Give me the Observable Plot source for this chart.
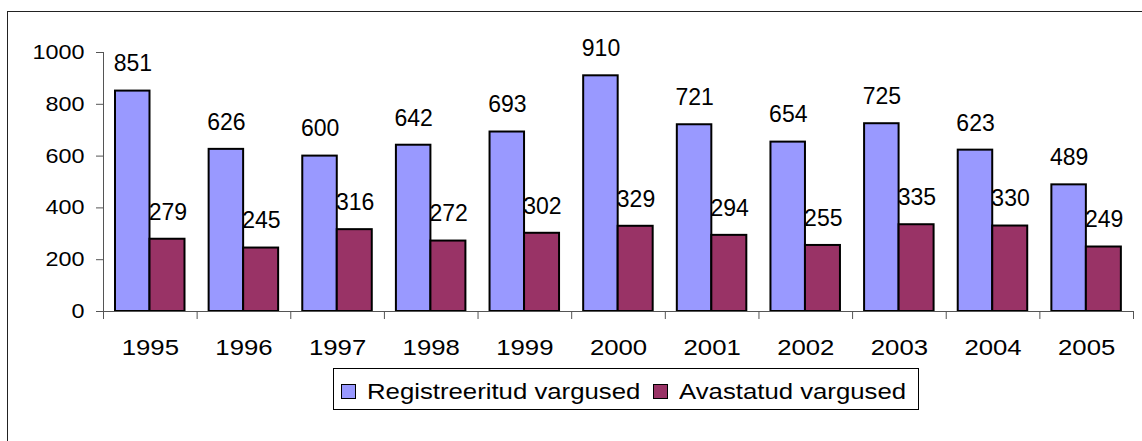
<!DOCTYPE html>
<html><head><meta charset="utf-8">
<script src="https://cdn.jsdelivr.net/npm/d3@7"></script>
<script src="https://cdn.jsdelivr.net/npm/@observablehq/plot@0.6"></script>
<style>
html,body{margin:0;padding:0;background:#fff;overflow:hidden;width:1142px;height:441px;}
#wrap{position:relative;width:1142px;height:441px;overflow:hidden;font-family:"Liberation Sans",Arial,sans-serif;}
#border{position:absolute;left:7px;top:11px;width:1200px;height:500px;border:1.5px solid #222;pointer-events:none;z-index:5;}
#chart{position:absolute;left:0;top:0;}
#legend{position:absolute;left:333px;top:368px;width:586px;height:42px;border:1px solid #000;box-sizing:border-box;background:#fff;}
.sw{position:absolute;top:15px;width:15px;height:15px;border:1.5px solid #000;box-sizing:border-box;}
.lt{position:absolute;top:10px;font-size:22px;line-height:26px;transform:scaleX(1.17);transform-origin:left center;white-space:nowrap;color:#000;}
</style></head><body>
<div id="wrap"><div id="chart"></div><div id="legend"></div><div id="border"></div></div>
<script>
const years = ["1995","1996","1997","1998","1999","2000","2001","2002","2003","2004","2005"];
const registered = [851,626,600,642,693,910,721,654,725,623,489];
const detected = [279,245,316,272,302,329,294,255,335,330,249];
const seriesNames = ["Registreeritud vargused","Avastatud vargused"];
const seriesColors = ["#9999ff","#993366"];
const yTicks = [0,200,400,600,800,1000];

const W = 1142, H = 441;
const mL = 103, mR = 9, mT = 52, mB = 130;
const bw = (W - mL - mR) / years.length;

const dataReg = years.map((y,i)=>({year:y, value:registered[i]}));
const dataDet = years.map((y,i)=>({year:y, value:detected[i]}));

const font = '"Liberation Sans", Arial, sans-serif';

const chart = Plot.plot({
  width: W, height: H,
  marginLeft: mL, marginRight: mR, marginTop: mT, marginBottom: mB,
  style: {fontFamily: font, background: "transparent", color: "#000", overflow: "visible"},
  x: {type: "band", domain: years, padding: 0, round: false, axis: null, label: null},
  y: {domain: [0, 1000], axis: null, label: null},
  marks: [
    Plot.barY(dataReg, {x: "year", y: "value", fill: seriesColors[0], stroke: "#000", strokeWidth: 2, insetLeft: 12, insetRight: bw - 46.5}),
    Plot.barY(dataDet, {x: "year", y: "value", fill: seriesColors[1], stroke: "#000", strokeWidth: 2, insetLeft: 46.5, insetRight: bw - 81.5}),
    Plot.ruleY([0], {stroke: "#555", strokeWidth: 1}),
    Plot.ruleX([years[0]], {x: d => d, dx: -bw/2, y1: 0, y2: 1000, stroke: "#555", strokeWidth: 1}),
    Plot.axisY({ticks: yTicks, tickSize: 7, tickPadding: 12, fontSize: 20, stroke: "#555", fill: "#000", anchor: "left", label: null, tickFormat: d => String(d)}),
    Plot.axisX({tickSize: 8, tickFormat: () => "", dx: -bw/2, stroke: "#555", anchor: "bottom", label: null}),
    Plot.axisX({ticks: [years[years.length-1]], tickSize: 8, tickFormat: () => "", dx: bw/2, stroke: "#555", anchor: "bottom", label: null}),
    Plot.axisX({tickSize: 0, tickPadding: 28, fontSize: 22, fill: "#000", anchor: "bottom", label: null}),
    Plot.text(dataReg, {x: "year", y: "value", text: d => String(d.value), dx: -17.5, dy: -27, lineAnchor: "middle", fontSize: 23, fill: "#000"}),
    Plot.text(dataDet, {x: "year", y: "value", text: d => String(d.value), dx: 17.5, dy: -27, lineAnchor: "middle", fontSize: 23, fill: "#000"})
  ]
});
document.getElementById("chart").appendChild(chart);

// horizontal stretch of axis labels (about their anchor point), as in the reference
chart.querySelectorAll('g[aria-label="y-axis tick label"] text, g[aria-label="x-axis tick label"] text').forEach(t => {
  if (!t.textContent) return;
  const x = parseFloat(t.getAttribute("x")) || 0;
  t.setAttribute("x", 0);
  const tr = t.getAttribute("transform") || "";
  t.setAttribute("transform", `${tr} translate(${x},0) scale(1.17,1)`);
});

// legend
const legend = document.getElementById("legend");
const swLeft = [7, 319], txtLeft = [33, 345];
seriesNames.forEach((name, i) => {
  const sw = document.createElement("div");
  sw.className = "sw"; sw.style.left = swLeft[i] + "px"; sw.style.background = seriesColors[i];
  legend.appendChild(sw);
  const t = document.createElement("div");
  t.className = "lt"; t.style.left = txtLeft[i] + "px"; t.textContent = name;
  legend.appendChild(t);
});
</script>
</body></html>
